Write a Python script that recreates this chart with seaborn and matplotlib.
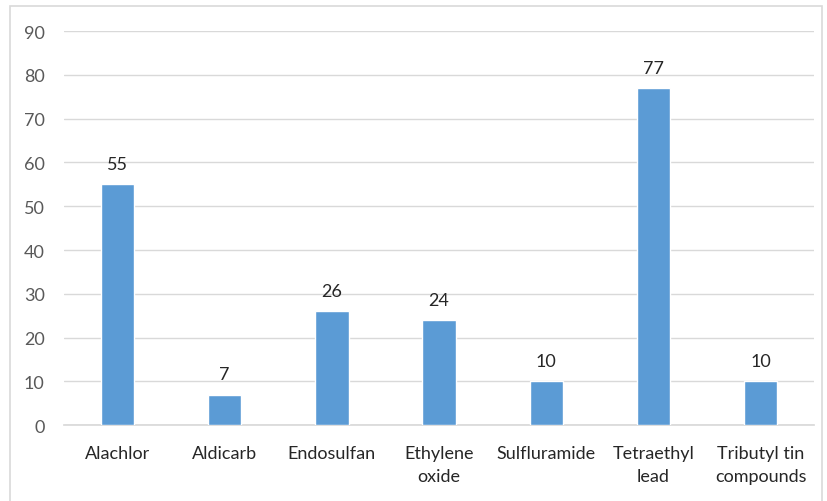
import matplotlib
matplotlib.use("Agg")
import matplotlib.pyplot as plt
import seaborn as sns
import pandas as pd
from matplotlib.patches import Rectangle

categories = ["Alachlor", "Aldicarb", "Endosulfan", "Ethylene\noxide",
              "Sulfluramide", "Tetraethyl\nlead", "Tributyl tin\ncompounds"]
values = [55, 7, 26, 24, 10, 77, 10]
yticks = [0, 10, 20, 30, 40, 50, 60, 70, 80, 90]

df = pd.DataFrame({"Compuesto": categories, "Valor": values})

sns.set_theme(style="white")
plt.rcParams["font.family"] = ["Lato", "DejaVu Sans"]

fig = plt.figure(figsize=(8.27, 5.02), dpi=100)
ax = fig.add_axes([0.0774, 0.151, 0.907, 0.785])

sns.barplot(data=df, x="Compuesto", y="Valor", color="#5B9BD5",
            width=0.31, saturation=1, ax=ax, zorder=3)

ax.set_ylim(0, 90)
ax.set_yticks(yticks)
ax.grid(axis="y", color="#D9D9D9", linewidth=1, zorder=0)
ax.set_axisbelow(True)
for s in ["top", "right", "left"]:
    ax.spines[s].set_visible(False)
ax.spines["bottom"].set_color("#D9D9D9")
ax.tick_params(axis="both", length=0, labelsize=13, labelcolor="#595959")
ax.tick_params(axis="x", pad=14, labelcolor="#262626")
ax.tick_params(axis="y", pad=14)
for t in ax.get_xticklabels():
    t.set_linespacing(1.6)
ax.set_xlabel("")
ax.set_ylabel("")

for c in ax.containers:
    ax.bar_label(c, padding=9, fontsize=13, color="#262626")

# marco del grafico
fig.patches.append(Rectangle((10 / 827, -0.05), 812 / 827, 1.036, transform=fig.transFigure,
                             fill=False, edgecolor="#D9D9D9", linewidth=1.2))

plt.savefig("out.png", dpi=100)
